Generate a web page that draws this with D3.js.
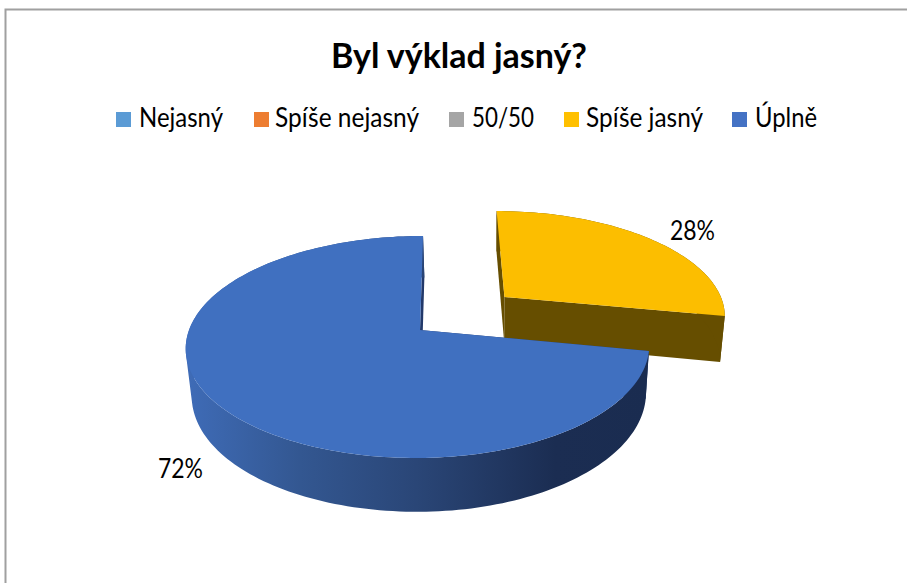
<!DOCTYPE html>
<html><head><meta charset="utf-8">
<script src="https://cdn.jsdelivr.net/npm/d3@7"></script>
<style>html,body{margin:0;padding:0;background:#fff}svg{display:block}text{font-family:Lato,"Open Sans",sans-serif;fill:#000}</style>
</head><body><svg id="c" width="907" height="583"></svg>
<script>
const categories = ["Nejasný","Spíše nejasný","50/50","Spíše jasný","Úplně"];
const values = [0,0,0,28,72];
const colors = ["#5b9bd5","#ed7d31","#a5a5a5","#ffc000","#4472c4"];
const faceColors = ["#5b9bd5","#ed7d31","#a5a5a5","#fcbe00","#4070c0"];
const title = "Byl výklad jasný?";

const svg = d3.select("#c");
const W=907,H=583;
svg.append("rect").attr("width",W).attr("height",H).attr("fill","#fff");
svg.append("path").attr("d","M5.5 583V9.5H907").attr("fill","none").attr("stroke","#a0a0a0").attr("stroke-width",2);

svg.append("text").attr("x",331).attr("y",68).attr("font-size",35).attr("font-weight",700)
  .attr("textLength",256).attr("lengthAdjust","spacingAndGlyphs").text(title);

const legX=[116,254,449,564,732], legTX=[139,275,472,586,755], legTW=[84,144,62,117,62];
const leg=svg.append("g").selectAll("g").data(categories).join("g");
leg.append("rect").attr("x",(d,i)=>legX[i]).attr("y",112).attr("width",15).attr("height",15).attr("fill",(d,i)=>colors[i]);
leg.append("text").attr("x",(d,i)=>legTX[i]).attr("y",127).attr("font-size",27)
  .attr("textLength",(d,i)=>legTW[i]).attr("lengthAdjust","spacingAndGlyphs").text(d=>d);

const cx=420,cy=330,aRight=227,aLeft=231,b=108.4,s=3.5,p=0.153,explode=0.5;
function proj(u,v){const w=1+p*v,a=u<0?aLeft:aRight;return [cx+(a*u+s*v)/w,cy-b*v/w];}
function under([x,y]){return [x+0.02*(490-x),y+46+0.055*(y-316)];}
const pie=d3.pie().sort(null).value(d=>d);
const arcs=pie(values).map((d,i)=>({...d,i})).filter(d=>d.value>0);
const line=d3.line();
function outline(d){
  const mid=(d.startAngle+d.endAngle)/2, e=d.value===28?explode:0;
  const ox=e*Math.sin(mid), oy=e*Math.cos(mid);
  const n=Math.ceil((d.endAngle-d.startAngle)*40);
  const rim=d3.range(n+1).map(k=>{const t=d.startAngle+(d.endAngle-d.startAngle)*k/n;return proj(ox+Math.sin(t),oy+Math.cos(t));});
  return {apex:proj(ox,oy),rim};
}
const defs=svg.append("defs");
const g=defs.append("linearGradient").attr("id","wall").attr("gradientUnits","userSpaceOnUse")
  .attr("x1",184).attr("x2",648).attr("y1",0).attr("y2",0);
[[0,"#3f6cb8"],[0.25,"#335791"],[0.5,"#2a4677"],[0.8,"#1b2d52"],[1,"#1a2c50"]].forEach(([o,c])=>g.append("stop").attr("offset",o).attr("stop-color",c));

const slices=svg.append("g").selectAll("g").data(arcs).join("g");
slices.each(function(d){
  const sel=d3.select(this), {apex,rim}=outline(d), yellow=d.value===28;
  const wallFill=yellow?"#664e00":"url(#wall)", faceFill=yellow?"#664e00":"#22396a";
  const quad=(A,B)=>{
    const pts=[A,B,under(B),under(A)];
    if(d3.polygonArea(pts)<0) pts.reverse();
    return line(pts)+"Z";
  };
  sel.append("path").attr("d",quad(apex,rim[0])).attr("fill",faceFill);
  sel.append("path").attr("d",quad(apex,rim[rim.length-1])).attr("fill",faceFill);
  sel.append("path").attr("d",d3.pairs(rim).map(([A,B])=>quad(A,B)).join("")).attr("fill",wallFill);
  sel.append("path").attr("d",line([apex,...rim])+"Z").attr("fill",faceColors[d.i]);
});

svg.append("g").selectAll("text").data(arcs).join("text")
  .attr("x",d=>d.value===28?670:158).attr("y",d=>d.value===28?240:478).attr("font-size",26)
  .attr("textLength",45).attr("lengthAdjust","spacingAndGlyphs").text(d=>d.value+"%");
</script></body></html>
